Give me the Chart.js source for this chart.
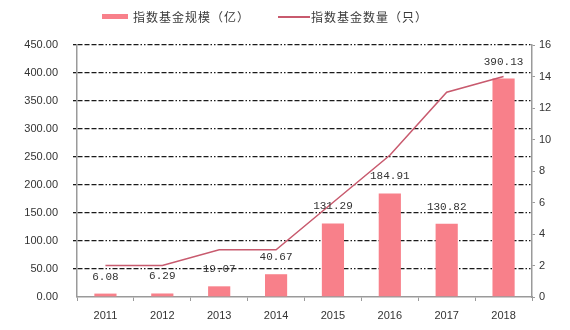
<!DOCTYPE html>
<html>
<head>
<meta charset="utf-8">
<script src="https://cdn.jsdelivr.net/npm/chart.js@4/dist/chart.umd.min.js"></script>
<style>
  html, body { margin: 0; padding: 0; background: #fff; }
  #wrap { position: relative; width: 570px; height: 330px; }
  #legend { position: absolute; top: 7px; left: 0; width: 570px; height: 20px;
    font-family: "Noto Sans CJK SC", sans-serif; font-size: 12px; color: #3a3a3a; }
  .item { position: absolute; top: 0; height: 20px; line-height: 20px; letter-spacing: 1px; }
  .sw { position: absolute; }
  .vl { position: absolute; font-family: "Liberation Mono", "DejaVu Sans Mono", monospace; font-size: 11px;
    color: #333; transform: translate(-50%, -50%); white-space: nowrap; line-height: 12px; }
</style>
</head>
<body>
<div id="wrap">
  <canvas id="c" width="570" height="330"></canvas>
  <div id="legend">
    <div class="sw" style="left:102px;top:7px;width:26px;height:5px;background:#F8808A;"></div>
    <div class="item" style="left:133px;" id="l1"></div>
    <div class="sw" style="left:278px;top:9px;width:32px;height:2px;background:#C85A6E;"></div>
    <div class="item" style="left:311px;" id="l2"></div>
  </div>
  <div id="vals"></div>
</div>
<script>
const categories = ['2011', '2012', '2013', '2014', '2015', '2016', '2017', '2018'];
const fundScale = [6.08, 6.29, 19.07, 40.67, 131.29, 184.91, 130.82, 390.13];
const fundCount = [2, 2, 3, 3, 6, 9, 13, 14];
const seriesNames = ['指数基金规模（亿）', '指数基金数量（只）'];

document.getElementById('l1').textContent = seriesNames[0];
document.getElementById('l2').textContent = seriesNames[1];

const dash = [5, 2, 5, 2, 5, 2, 5, 2, 1.5, 2, 1.5, 2];
const tickFont = { family: 'Liberation Sans, Arial, sans-serif', size: 11 };

const chart = new Chart(document.getElementById('c'), {
  type: 'bar',
  data: {
    labels: categories,
    datasets: [
      {
        type: 'line',
        label: seriesNames[1],
        data: fundCount,
        yAxisID: 'y1',
        borderColor: '#C85A6E',
        borderWidth: 1.5,
        pointRadius: 0,
        order: 0
      },
      {
        type: 'bar',
        label: seriesNames[0],
        data: fundScale,
        yAxisID: 'y',
        backgroundColor: '#F8808A',
        borderWidth: 0,
        categoryPercentage: 1,
        barPercentage: 0.39,
        order: 1
      }
    ]
  },
  options: {
    responsive: false,
    animation: false,
    layout: { padding: { top: 45 } },
    plugins: { legend: { display: false } },
    scales: {
      x: {
        afterFit: s => { s.height = 33; },
        grid: { drawOnChartArea: false, color: '#9a9a9a', tickLength: 4 },
        border: { color: '#9a9a9a', width: 1.5 },
        ticks: { color: '#333', font: tickFont, padding: 8, maxRotation: 0 }
      },
      y: {
        position: 'left',
        min: 0, max: 450,
        afterFit: s => { s.width = 77; },
        ticks: { stepSize: 50, color: '#333', font: tickFont, padding: 15, callback: v => Number(v).toFixed(2) },
        grid: {
          color: c => (c.tick && c.tick.value === 0) ? 'rgba(0,0,0,0)' : '#1a1a1a',
          lineWidth: 1.3,
          tickLength: 4
        },
        border: { color: '#9a9a9a', width: 1.5, dash: dash }
      },
      y1: {
        position: 'right',
        min: 0, max: 16,
        afterFit: s => { s.width = 38; },
        ticks: { stepSize: 2, color: '#333', font: tickFont, padding: 4 },
        grid: { drawOnChartArea: false, color: '#9a9a9a', tickLength: 3 },
        border: { color: '#9a9a9a', width: 1.5 }
      }
    }
  }
});

// value labels above the bars, placed from the bar elements' own positions
const vals = document.getElementById('vals');
chart.getDatasetMeta(1).data.forEach((bar, i) => {
  const d = document.createElement('div');
  d.className = 'vl';
  d.textContent = fundScale[i].toFixed(2);
  d.style.left = bar.x + 'px';
  d.style.top = (bar.y - 17) + 'px';
  vals.appendChild(d);
});
</script>
</body>
</html>
